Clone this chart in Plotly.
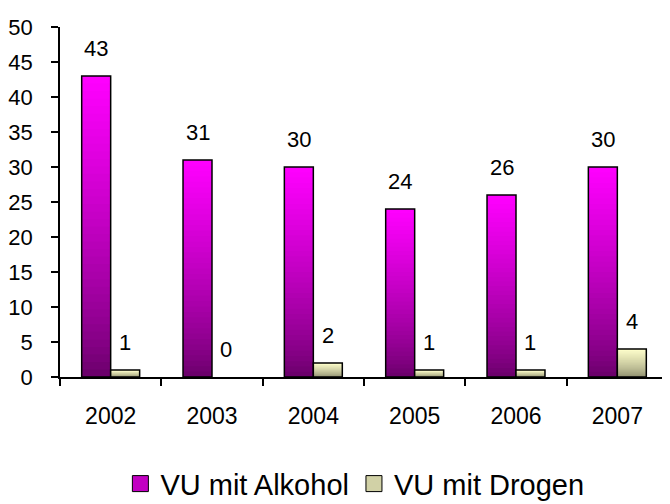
import plotly.graph_objects as go

years = ["2002", "2003", "2004", "2005", "2006", "2007"]
alkohol = [43, 31, 30, 24, 26, 30]
drogen = [1, 0, 2, 1, 1, 4]
series_names = ["VU mit Alkohol", "VU mit Drogen"]

FONT = "Arial, Liberation Sans, sans-serif"
N = 40
BW = 0.286
GAMMA = 0.75
CAT_PX = 608 / 6


def lerp(c0, c1, t):
    return "rgb(%d,%d,%d)" % tuple(round(a + (b - a) * t) for a, b in zip(c0, c1))


specs = [
    (alkohol, -BW, (0x66, 0x00, 0x66), (0xFF, 0x00, 0xFF), series_names[0]),
    (drogen, 0.0, (0x8C, 0x8C, 0x6C), (0xFF, 0xFF, 0xCC), series_names[1]),
]

fig = go.Figure()
for vals, off, cb, ct, name in specs:
    shown = [v if v else None for v in vals]
    for k in range(N):
        t = (k + 0.5) / N
        fig.add_trace(go.Bar(
            x=years,
            y=[v * (1 - k / N) if v else None for v in vals],
            base=[v * k / N for v in vals],
            width=BW, offset=off,
            marker=dict(color=lerp(cb, ct, t ** GAMMA), line=dict(width=0)),
            showlegend=False, hoverinfo="skip",
        ))
    fig.add_trace(go.Bar(
        x=years, y=shown, width=BW, offset=off,
        marker=dict(color="rgba(0,0,0,0)", line=dict(color="black", width=1.5)),
        showlegend=False, name=name,
    ))
    # data labels
    for i, v in enumerate(vals):
        fig.add_annotation(
            x=i, y=v, xref="x", yref="y", text=str(v), showarrow=False,
            xshift=(off + BW / 2) * CAT_PX, yshift=28, yanchor="middle",
            font=dict(family=FONT, size=22, color="black"),
        )

# legend entries
for vals, off, cb, ct, name in specs:
    fig.add_trace(go.Scatter(
        x=[None], y=[None], mode="markers", name=name,
        marker=dict(symbol="square", size=16, color=lerp(cb, ct, 0.6),
                    line=dict(color="black", width=1)),
    ))

fig.update_layout(
    width=662, height=496,
    margin=dict(l=52, r=2, t=19, b=127, autoexpand=False),
    paper_bgcolor="white", plot_bgcolor="white",
    barmode="overlay",
    font=dict(family=FONT, size=22, color="black"),
    showlegend=True,
    legend=dict(orientation="h", x=0.485, xanchor="center", y=-0.305, yanchor="middle",
                font=dict(family=FONT, size=29, color="black"),
                itemwidth=30, tracegroupgap=0),
    xaxis=dict(
        type="category", range=[-0.5, 5.5],
        showline=True, linecolor="black", linewidth=1.5,
        ticks="outside", tickson="boundaries", ticklen=7, tickcolor="black", tickwidth=1.5,
        ticklabelstandoff=18, showgrid=False, zeroline=False,
        tickfont=dict(family=FONT, size=23, color="black"),
    ),
    yaxis=dict(
        range=[0, 50], dtick=5, tick0=0,
        showline=True, linecolor="black", linewidth=1.5,
        ticks="outside", ticklen=7, tickcolor="black", tickwidth=1.5,
        ticklabelstandoff=14, showgrid=False, zeroline=False,
        tickfont=dict(family=FONT, size=22, color="black"),
    ),
)

fig.write_html("out.html")
